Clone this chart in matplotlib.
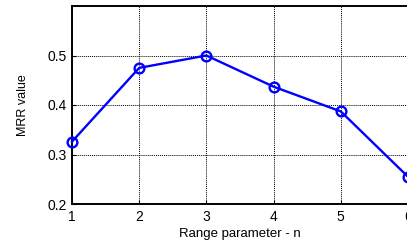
import matplotlib
matplotlib.use('Agg')
import matplotlib.pyplot as plt

n = [1, 2, 3, 4, 5, 6]
mrr = [0.326, 0.475, 0.500, 0.437, 0.387, 0.255]
yticks = [0.2, 0.3, 0.4, 0.5]

plt.rcParams['font.family'] = ['Liberation Sans', 'DejaVu Sans']

fig = plt.figure(figsize=(4.07, 2.41), dpi=100)
ax = fig.add_axes([72/407, 1-204/241, 336/407, 198/241])

ax.plot(n, mrr, color='#0000ff', lw=1.7, marker='o', ms=7,
        mfc='none', mec='#0000ff', mew=1.7, clip_on=False, zorder=3)

ax.set_xlim(1, 6)
ax.set_ylim(0.2, 0.6)
ax.set_xticks(n)
ax.set_yticks(yticks)
ax.set_yticklabels(['0.2', '0.3', '0.4', '0.5'])
ax.grid(True, color='black', linestyle=(0, (1, 1)), linewidth=0.7)
ax.tick_params(direction='in', length=3, labelsize=10, pad=4)
for s in ax.spines.values():
    s.set_linewidth(1.4)

ax.set_xlabel('Range parameter - n', fontsize=9.5, labelpad=3)
ax.set_ylabel('MRR value', fontsize=9, labelpad=13)

fig.savefig('out.png', dpi=100)
